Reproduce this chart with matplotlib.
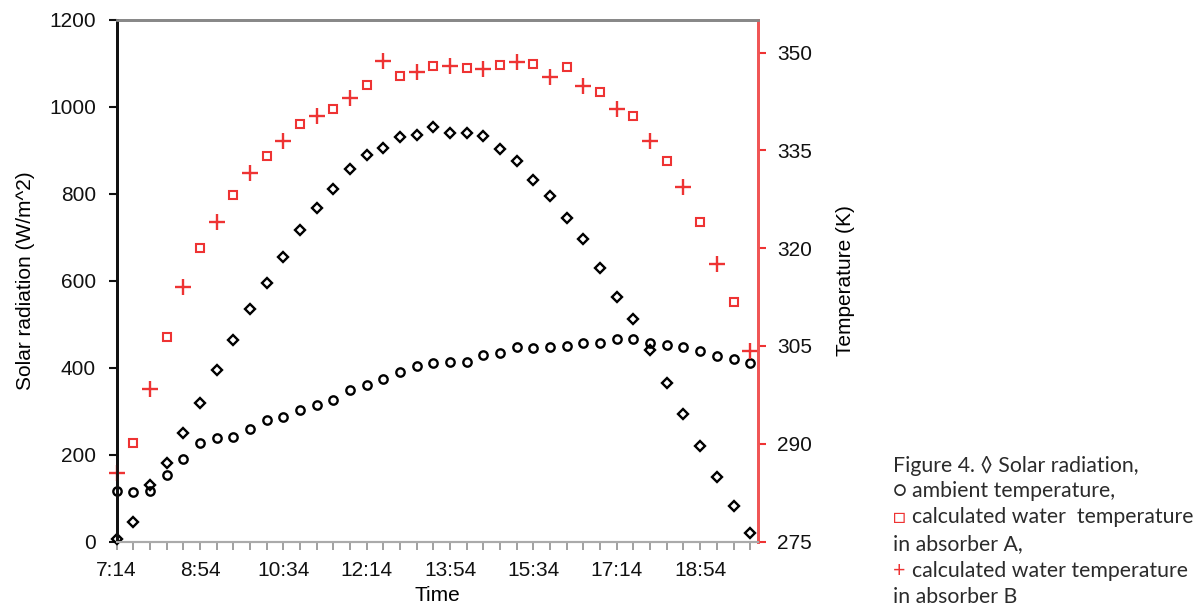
import numpy as np
import matplotlib
matplotlib.use("Agg")
import matplotlib.pyplot as plt

# Time axis: minutes after 7:14, one reading every 20 min
start_hour, start_min = 7, 14
minutes = list(range(0, 761, 20))

# Solar radiation (W/m^2), diamonds
solar = [5, 45, 131, 181, 250, 319, 394, 463, 535, 594,
         655, 717, 767, 810, 856, 890, 906, 931, 936, 953,
         940, 941, 933, 903, 876, 832, 794, 744, 696, 630,
         563, 511, 441, 364, 293, 220, 148, 81, 20]

# Ambient temperature, circles (read against the left scale)
ambient = [116, 114, 116, 153, 191, 227, 238, 240, 260, 279,
           287, 303, 315, 326, 348, 360, 373, 391, 405, 411,
           413, 414, 429, 434, 447, 445, 448, 451, 456, 457,
           466, 466, 457, 453, 447, 438, 426, 420, 410]

# Water temperature in absorber A (K), squares, at 7:34, 8:14, ...
minutes_a = minutes[1::2]
temp_a = [290.1, 306.3, 320.0, 328.1, 334.2, 339.0, 341.4, 345.1, 346.4, 348.0,
          347.7, 348.1, 348.3, 347.8, 343.9, 340.2, 333.3, 324.0, 311.8]

# Water temperature in absorber B (K), crosses, at 7:14, 7:54, ...
minutes_b = minutes[0::2]
temp_b = [285.5, 298.4, 314.0, 324.0, 331.6, 336.5, 340.2, 343.1, 348.7, 347.0,
          348.0, 347.5, 348.6, 346.3, 344.9, 341.3, 336.5, 329.4, 317.5, 304.3]

left_ticks = [0, 200, 400, 600, 800, 1000, 1200]
right_ticks = [275, 290, 305, 320, 335, 350]

red = "#ee3333"
plt.rcParams["font.family"] = ["Liberation Sans", "DejaVu Sans"]

fig = plt.figure(figsize=(12.04, 6.11), dpi=100)
ax = fig.add_axes([0.0969, 0.1137, 0.5324, 0.8536])
ax2 = ax.twinx()

ax.plot(minutes, solar, linestyle="none", marker="D", ms=4.6, mfc="none",
        mec="black", mew=1.7, clip_on=False, zorder=3)
ax.plot(minutes, ambient, linestyle="none", marker="o", ms=6, mfc="none",
        mec="black", mew=1.7, clip_on=False, zorder=3)
ax2.plot(minutes_a, temp_a, linestyle="none", marker="s", ms=6.2, mfc="none",
         mec=red, mew=1.5, clip_on=False)
ax2.plot(minutes_b, temp_b, linestyle="none", marker="+", ms=11, mec=red,
         mew=1.7, clip_on=False)

ax.set_xlim(0, 769)
ax.set_ylim(0, 1200)
ax2.set_ylim(275, 355)

# every 20 min gets a tick, every 100 min a label
xlabels = []
for m in minutes:
    if m % 100 == 0:
        t = start_hour * 60 + start_min + m
        xlabels.append(f"{t // 60}:{t % 60:02d}")
    else:
        xlabels.append("")
ax.set_xticks(minutes)
ax.set_xticklabels(xlabels)
ax.set_yticks(left_ticks)
ax2.set_yticks(right_ticks)

ax.tick_params(axis="x", colors="#999999", labelcolor="#111111", length=6,
               width=1.3, pad=8, labelsize=15)
ax.tick_params(axis="y", colors="#111111", length=6, width=1.5, pad=9,
               labelsize=15)
ax2.tick_params(axis="y", colors=red, labelcolor="#111111", length=6,
                width=1.5, pad=8, labelsize=15)

for a in (ax, ax2):
    a.spines["top"].set_color("#888888")
    a.spines["top"].set_linewidth(2)
    a.spines["bottom"].set_color("#aaaaaa")
    a.spines["bottom"].set_linewidth(1.5)
    a.spines["left"].set_color("#111111")
    a.spines["left"].set_linewidth(2)
    a.spines["right"].set_color("#f05555")
    a.spines["right"].set_linewidth(2)

ax.set_xlabel("Time", fontsize=15, labelpad=4)
ax.set_ylabel("Solar radiation (W/m^2)", fontsize=15, labelpad=10)
ax2.set_ylabel("Temperature (K)", fontsize=15, labelpad=17)

# figure caption on the right
cap = ["Lato", "DejaVu Sans"]
cap_color = "#2b2b2b"
x0, dx = 893, 19
baselines = [472, 497, 523, 550, 577, 603]
W, H = 1204, 611


def put(x, y, s, color=cap_color):
    fig.text(x / W, 1 - y / H, s, fontsize=15.3, family=cap, color=color,
             va="baseline", ha="left")


put(x0, baselines[0], "Figure 4. \u25ca Solar radiation,")
put(x0, baselines[1], "\u25cb")
put(x0 + dx, baselines[1], "ambient temperature,")
put(x0, baselines[2], "\u25a1", red)
put(x0 + dx, baselines[2], "calculated water  temperature")
put(x0, baselines[3], "in absorber A,")
put(x0, baselines[4], "+", red)
put(x0 + dx, baselines[4], "calculated water temperature")
put(x0, baselines[5], "in absorber B")

fig.savefig("out.png", dpi=100)
